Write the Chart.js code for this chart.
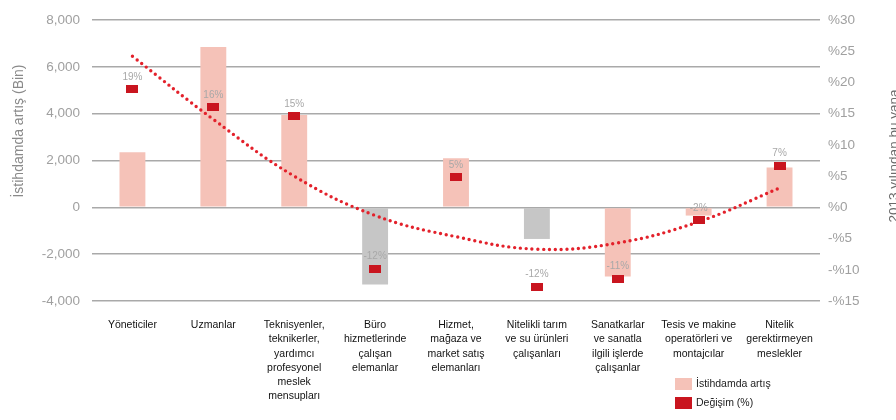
<!DOCTYPE html>
<html lang="tr">
<head>
<meta charset="utf-8">
<title>İstihdamda artış</title>
<script src="https://cdn.jsdelivr.net/npm/chart.js@4/dist/chart.umd.min.js"></script>
<style>
  html, body { margin: 0; padding: 0; background: #fff; overflow: hidden; }
  #wrap { position: relative; width: 896px; height: 420px; }
  .legend { position: absolute; left: 675px; font: 10.5px "Liberation Sans", Arial, sans-serif; color: #222; }
  .legend span.box { position: absolute; left: 0; width: 17px; height: 12px; }
  .legend span.txt { position: absolute; left: 21px; top: -1px; white-space: nowrap; }
</style>
</head>
<body>
<div id="wrap">
  <canvas id="chart"></canvas>
  <div class="legend" style="top:378px"><span class="box" style="background:#f5c2b8"></span><span class="txt">İstihdamda artış</span></div>
  <div class="legend" style="top:397px"><span class="box" style="background:#c9151f"></span><span class="txt">Değişim (%)</span></div>
</div>
<script>
// categories (multi-line labels)
const categories = [
    ['Yöneticiler'],
    ['Uzmanlar'],
    ['Teknisyenler,', 'teknikerler,', 'yardımcı', 'profesyonel', 'meslek', 'mensupları'],
    ['Büro', 'hizmetlerinde', 'çalışan', 'elemanlar'],
    ['Hizmet,', 'mağaza ve', 'market satış', 'elemanları'],
    ['Nitelikli tarım', 've su ürünleri', 'çalışanları'],
    ['Sanatkarlar', 've sanatla', 'ilgili işlerde', 'çalışanlar'],
    ['Tesis ve makine', 'operatörleri ve', 'montajcılar'],
    ['Nitelik', 'gerektirmeyen', 'meslekler']
];

// employment change (thousands)
const employment = [2350, 6850, 3950, -3300, 2100, -1350, -2950, -350, 1700];
// change since 2013 (%)
const changePct = [18.9, 16.1, 14.6, -9.8, 4.8, -12.7, -11.4, -2.1, 6.7];
const changeLabels = ['19%', '16%', '15%', '-12%', '5%', '-12%', '-11%', '-2%', '7%'];
// dotted trend line (%)
const trend = [24.2, 14.1, 5.0, -1.3, -4.7, -6.7, -5.7, -2.3, 3.1];
// which bars are gray
const grayBars = [false, false, false, true, false, true, false, false, false];

const PINK = '#f5c2b8';
const GRAY = '#c6c6c6';
const RED = '#c9151f';

// small flat rectangle used as the marker
const marker = document.createElement('canvas');
marker.width = 12;
marker.height = 8;
const mctx = marker.getContext('2d');
mctx.fillStyle = RED;
mctx.fillRect(0, 0, 12, 8);

const FONT = '"Liberation Sans", Arial, sans-serif';

// percent labels above the markers + axis titles
const extras = {
    id: 'extras',
    afterDatasetsDraw(chart) {
        const ctx = chart.ctx;
        const meta = chart.getDatasetMeta(2);
        ctx.save();
        ctx.font = '10px ' + FONT;
        ctx.fillStyle = '#a8a8a8';
        ctx.textAlign = 'center';
        ctx.textBaseline = 'middle';
        meta.data.forEach((pt, i) => {
            ctx.fillText(changeLabels[i], pt.x, pt.y - 12);
        });
        ctx.restore();
    },
    afterDraw(chart) {
        const ctx = chart.ctx;
        ctx.save();
        ctx.textAlign = 'center';
        ctx.textBaseline = 'middle';
        ctx.font = '14px ' + FONT;
        ctx.fillStyle = '#8a8a8a';
        ctx.translate(19, 131);
        ctx.rotate(-Math.PI / 2);
        ctx.fillText('İstihdamda artış (Bin)', 0, 0);
        ctx.restore();

        ctx.save();
        ctx.textAlign = 'center';
        ctx.textBaseline = 'middle';
        ctx.font = '13.5px ' + FONT;
        ctx.fillStyle = '#6a6a6a';
        ctx.translate(894, 156);
        ctx.rotate(-Math.PI / 2);
        ctx.fillText('2013 yılından bu yana', 0, 0);
        ctx.restore();
    }
};

new Chart(document.getElementById('chart'), {
    type: 'bar',
    data: {
        labels: categories,
        datasets: [
            {
                type: 'bar',
                label: 'İstihdamda artış',
                data: employment,
                yAxisID: 'y',
                backgroundColor: grayBars.map(g => g ? GRAY : PINK),
                borderWidth: 0,
                barPercentage: 0.32,
                categoryPercentage: 1,
                order: 3
            },
            {
                type: 'line',
                label: 'Trend',
                data: trend,
                yAxisID: 'y1',
                borderColor: '#e3212b',
                borderWidth: 3.4,
                borderDash: [0, 5.8],
                borderCapStyle: 'round',
                pointRadius: 0,
                tension: 0.4,
                fill: false,
                order: 2
            },
            {
                type: 'line',
                label: 'Değişim (%)',
                data: changePct,
                yAxisID: 'y1',
                showLine: false,
                pointStyle: marker,
                pointRadius: 6,
                order: 1
            }
        ]
    },
    options: {
        responsive: true,
        maintainAspectRatio: false,
        animation: false,
        layout: { padding: { top: 13, left: 0, right: 0, bottom: 0 } },
        plugins: {
            legend: { display: false },
            tooltip: { enabled: false }
        },
        scales: {
            x: {
                grid: { display: false },
                border: { display: false },
                ticks: {
                    autoSkip: false,
                    maxRotation: 0,
                    padding: 9,
                    color: '#111',
                    font: { family: FONT, size: 10.5, lineHeight: 1.36 }
                },
                afterFit(scale) { scale.height = 119; }
            },
            y: {
                position: 'left',
                min: -4000,
                max: 8000,
                ticks: {
                    stepSize: 2000,
                    padding: 12,
                    color: '#a0a0a0',
                    font: { family: FONT, size: 13.5 },
                    callback: v => v.toLocaleString('en-US')
                },
                grid: { color: '#a9a9a9', lineWidth: 1.6, drawTicks: false },
                border: { display: false },
                afterFit(scale) { scale.width = 92; }
            },
            y1: {
                position: 'right',
                min: -15,
                max: 30,
                ticks: {
                    stepSize: 5,
                    padding: 8,
                    color: '#a0a0a0',
                    font: { family: FONT, size: 13.5 },
                    callback: v => v < 0 ? '-%' + (-v) : '%' + v
                },
                grid: { display: false, drawTicks: false },
                border: { display: false },
                afterFit(scale) { scale.width = 76; }
            }
        }
    },
    plugins: [extras]
});
</script>
</body>
</html>
